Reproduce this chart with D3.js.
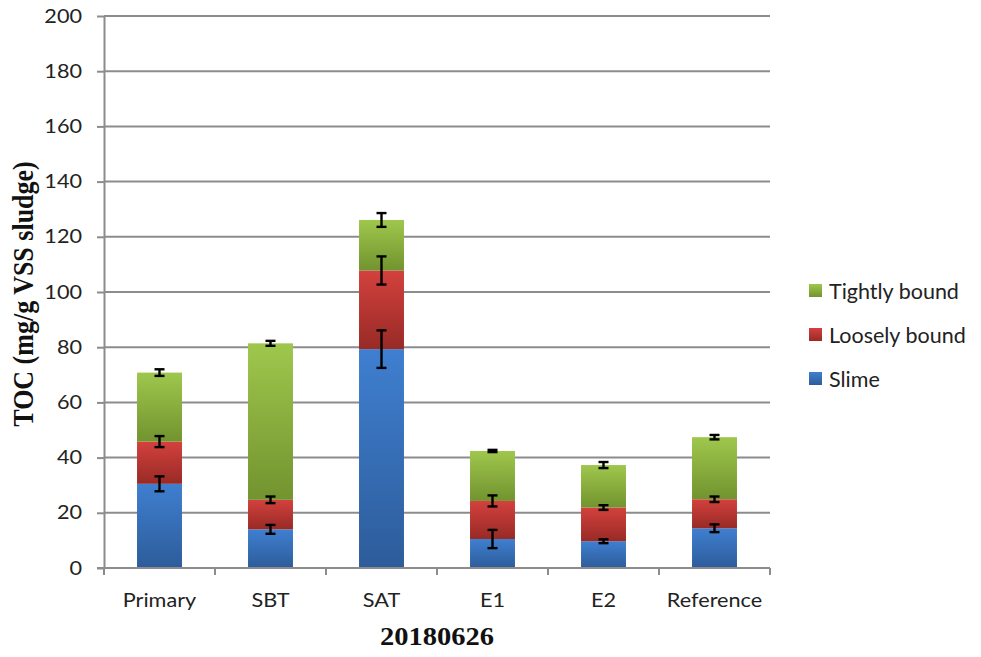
<!DOCTYPE html>
<html>
<head>
<meta charset="utf-8">
<script src="https://cdn.jsdelivr.net/npm/d3@7"></script>
<style>
  html, body { margin: 0; padding: 0; background: #fff; }
  svg { display: block; }
</style>
</head>
<body>
<svg id="chart" width="981" height="657"></svg>
<script>
// Sampling points (x-axis categories)
const categories = ["Primary", "SBT", "SAT", "E1", "E2", "Reference"];

// Stacked EPS fractions, TOC in mg/g VSS sludge
const slime        = [30.5, 14.0, 79.3, 10.5, 9.7, 14.4];
const looselyBound = [15.3, 10.7, 28.5, 13.8, 12.2, 10.5];
const tightlyBound = [25.0, 56.7, 18.3, 18.1, 15.4, 22.5];

// Standard deviations for each fraction
const slimeErr   = [2.7, 1.6, 6.8, 3.3, 0.7, 1.4];
const looselyErr = [2.0, 1.2, 5.1, 2.0, 0.85, 1.0];
const tightlyErr = [1.2, 0.9, 2.5, 0.4, 1.1, 0.8];

const yTicks = [0, 20, 40, 60, 80, 100, 120, 140, 160, 180, 200];

const seriesDefs = [
  { key: "slime",   name: "Slime",         values: slime,        err: slimeErr,   top: "#3f7fd0", bottom: "#2d5c9a" },
  { key: "loosely", name: "Loosely bound", values: looselyBound, err: looselyErr, top: "#d3413d", bottom: "#982a26" },
  { key: "tightly", name: "Tightly bound", values: tightlyBound, err: tightlyErr, top: "#9fc74c", bottom: "#72932f" }
];

// Axis labels are drawn slightly widened horizontally
const SX = 1.14;
const sansFont = "Lato, 'Open Sans', sans-serif";
const serifFont = "'Liberation Serif', 'Times New Roman', serif";
function widen(x0) { return `translate(${x0},0) scale(${SX},1) translate(${-x0},0)`; }

const svg = d3.select("#chart");
const margin = { left: 104, right: 211, top: 16, bottom: 89 };
const W = 981, H = 657;
const plotW = W - margin.left - margin.right;
const plotH = H - margin.top - margin.bottom;

const x = d3.scaleBand().domain(categories).range([0, plotW]).paddingInner(0.595).paddingOuter(0.2975);
const y = d3.scaleLinear().domain([0, 200]).range([plotH, 0]);

// Vertical gradients for each fraction
const defs = svg.append("defs");
seriesDefs.forEach(s => {
  const gr = defs.append("linearGradient").attr("id", "grad-" + s.key)
    .attr("x1", 0).attr("y1", 0).attr("x2", 0).attr("y2", 1);
  gr.append("stop").attr("offset", "0%").attr("stop-color", s.top);
  gr.append("stop").attr("offset", "100%").attr("stop-color", s.bottom);
});

const g = svg.append("g").attr("transform", `translate(${margin.left},${margin.top})`);

// Horizontal gridlines
g.append("g").selectAll("line").data(yTicks.filter(t => t > 0)).join("line")
  .attr("x1", 0).attr("x2", plotW)
  .attr("y1", d => y(d)).attr("y2", d => y(d))
  .attr("stroke", "#8c8c8c").attr("stroke-width", 2);

// Stack the three fractions
const rows = categories.map((c, i) => ({ cat: c, slime: slime[i], loosely: looselyBound[i], tightly: tightlyBound[i] }));
const stacked = d3.stack().keys(seriesDefs.map(s => s.key))(rows);

const barsG = g.append("g");
stacked.forEach((layer, li) => {
  const s = seriesDefs[li];
  barsG.append("g").selectAll("rect").data(layer).join("rect")
    .attr("x", d => x(d.data.cat))
    .attr("width", x.bandwidth())
    .attr("y", d => y(d[1]))
    .attr("height", d => y(d[0]) - y(d[1]))
    .attr("fill", `url(#grad-${s.key})`);
});

// Error bars at the top of each segment
const capW = 10;
stacked.forEach((layer, li) => {
  const s = seriesDefs[li];
  const eg = g.append("g").attr("stroke", "#000").attr("stroke-width", 2.4);
  layer.forEach((d, i) => {
    const cx = x(d.data.cat) + x.bandwidth() / 2;
    const e = s.err[i];
    const yHi = y(d[1] + e), yLo = y(d[1] - e);
    eg.append("line").attr("x1", cx).attr("x2", cx).attr("y1", yHi).attr("y2", yLo);
    eg.append("line").attr("x1", cx - capW / 2).attr("x2", cx + capW / 2).attr("y1", yHi).attr("y2", yHi);
    eg.append("line").attr("x1", cx - capW / 2).attr("x2", cx + capW / 2).attr("y1", yLo).attr("y2", yLo);
  });
});

// Y axis
const yAxis = g.append("g")
  .call(d3.axisLeft(y).tickValues(yTicks).tickSize(7).tickPadding(15).tickSizeOuter(0));
yAxis.select(".domain").attr("stroke", "#8c8c8c").attr("stroke-width", 2);
yAxis.selectAll(".tick line").attr("stroke", "#8c8c8c").attr("stroke-width", 2);
yAxis.selectAll(".tick text")
  .attr("font-family", sansFont).attr("font-size", 19).attr("fill", "#222")
  .attr("transform", widen(-22));

// X axis with tick marks on category boundaries
const xAxisG = g.append("g").attr("transform", `translate(0,${plotH})`);
xAxisG.append("line").attr("x1", -7).attr("x2", plotW).attr("y1", 0).attr("y2", 0)
  .attr("stroke", "#8c8c8c").attr("stroke-width", 2);
const step = x.step();
const boundaries = d3.range(categories.length + 1).map(i => x.paddingOuter() * step - x.paddingInner() * step / 2 + i * step);
xAxisG.selectAll("line.tk").data(boundaries).join("line").attr("class", "tk")
  .attr("x1", d => d).attr("x2", d => d).attr("y1", 0).attr("y2", 7)
  .attr("stroke", "#8c8c8c").attr("stroke-width", 2);
xAxisG.selectAll("text").data(categories).join("text")
  .attr("x", d => x(d) + x.bandwidth() / 2)
  .attr("y", 39)
  .attr("text-anchor", "middle")
  .attr("transform", d => widen(x(d) + x.bandwidth() / 2))
  .attr("font-family", sansFont).attr("font-size", 19).attr("fill", "#222")
  .text(d => d);

// Axis titles
svg.append("text")
  .attr("transform", `translate(24,${margin.top + plotH / 2 + 2}) scale(${SX},1) rotate(-90) translate(0,8)`)
  .attr("text-anchor", "middle")
  .attr("font-family", serifFont)
  .attr("font-weight", "bold").attr("font-size", 26).attr("fill", "#111")
  .text("TOC (mg/g VSS sludge)");

const xtX = margin.left + plotW / 2;
svg.append("text")
  .attr("x", xtX).attr("y", 645)
  .attr("text-anchor", "middle")
  .attr("transform", widen(xtX))
  .attr("font-family", serifFont)
  .attr("font-weight", "bold").attr("font-size", 25).attr("fill", "#111")
  .text("20180626");

// Legend, top entry is the top of the stack
const legend = svg.append("g").attr("transform", "translate(809,299)");
seriesDefs.slice().reverse().forEach((s, i) => {
  const row = legend.append("g").attr("transform", `translate(0,${i * 44})`);
  row.append("rect").attr("x", 0).attr("y", -15).attr("width", 13).attr("height", 13)
    .attr("fill", `url(#grad-${s.key})`);
  row.append("text").attr("x", 20).attr("y", 0)
    .attr("font-family", sansFont).attr("font-size", 21.5).attr("fill", "#222")
    .text(s.name);
});
</script>
</body>
</html>
